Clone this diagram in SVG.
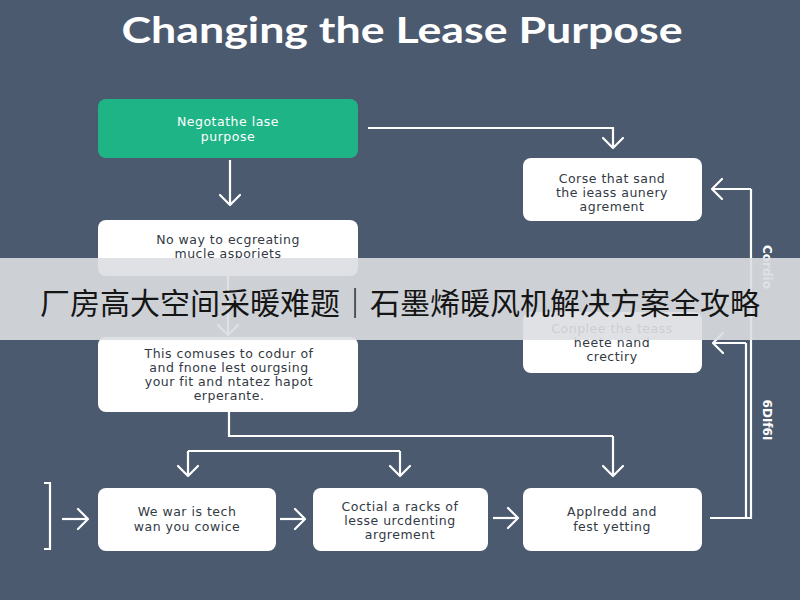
<svg xmlns="http://www.w3.org/2000/svg" width="800" height="600" viewBox="0 0 800 600">
<defs>
<marker id="arr" viewBox="-12 -12 14 24" refX="0" refY="0" markerWidth="14" markerHeight="24" markerUnits="userSpaceOnUse" orient="auto">
<path d="M-10,-10 L0,0 L-10,10" fill="none" stroke="#ffffff" stroke-width="2.2" stroke-linecap="round" stroke-linejoin="round"/>
</marker>
<style>
.box{fill:#ffffff;stroke:none}
.t{font-family:"DejaVu Sans","Liberation Sans",sans-serif;font-size:12.5px;letter-spacing:0.5px;fill:#333a44;text-anchor:middle}
.w{fill:#ffffff}
.ln{fill:none;stroke:#ffffff;stroke-width:2.2}
.ar{marker-end:url(#arr)}
.vl{font-family:"DejaVu Sans","Liberation Sans",sans-serif;font-size:12px;font-weight:bold;fill:#ffffff;text-anchor:middle}
</style>
</defs>
<rect x="0" y="0" width="800" height="600" fill="#4b5a6f"/>
<text x="402" y="43" font-family="Lato,'Open Sans',sans-serif" font-weight="bold" font-size="37" fill="#ffffff" text-anchor="middle" textLength="561" lengthAdjust="spacingAndGlyphs">Changing the Lease Purpose</text>

<g id="connectors">
<path class="ln ar" d="M230,160 V205"/>
<path class="ln ar" d="M228,276 V335"/>
<path class="ln ar" d="M368,128 H613 V148"/>
<path class="ln" d="M229,412 V436 H613"/>
<path class="ln ar" d="M613,436 V476"/>
<path class="ln" d="M188,451 H400"/>
<path class="ln ar" d="M188,451 V476"/>
<path class="ln ar" d="M400,451 V476"/>
<path class="ln ar" d="M280,519 H305"/>
<path class="ln ar" d="M493,518 H518"/>
<path class="ln" d="M44,483 H50 V549 H44"/>
<path class="ln ar" d="M62,519 H88"/>
<path class="ln" d="M710,518 H751 V189"/>
<path class="ln ar" d="M751,189 H712"/>
<path class="ln" d="M746,518 V343"/>
<path class="ln ar" d="M746,343 H713"/>
<text class="vl" transform="translate(763,267) rotate(90)">Cordio</text>
<text class="vl" transform="translate(763,420) rotate(90)">6DIf6I</text>
</g>

<g id="node-negotiate">
<rect x="98" y="99" width="260" height="59" rx="8" fill="#1fb486"/>
<text class="t w" x="228" y="126">Negotathe lase</text>
<text class="t w" x="228" y="141">purpose</text>
</g>

<g id="node-noway">
<rect class="box" x="98" y="220" width="260" height="56" rx="8"/>
<text class="t" x="228" y="244">No way to ecgreating</text>
<text class="t" x="228" y="258">mucle asporiets</text>
</g>

<g id="node-this">
<rect class="box" x="98" y="337" width="260" height="75" rx="8"/>
<text class="t" x="229" y="358">This comuses to codur of</text>
<text class="t" x="229" y="372">and fnone lest ourgsing</text>
<text class="t" x="229" y="386">your fit and ntatez hapot</text>
<text class="t" x="229" y="400">erperante.</text>
</g>

<g id="node-corse">
<rect class="box" x="523" y="158" width="179" height="63" rx="8"/>
<text class="t" x="612" y="183">Corse that sand</text>
<text class="t" x="612" y="197">the ieass aunery</text>
<text class="t" x="612" y="211">agrement</text>
</g>

<g id="node-conplee">
<rect class="box" x="523" y="312" width="179" height="61" rx="8"/>
<text class="t" x="612" y="333">Conplee the teass</text>
<text class="t" x="612" y="347">heete nand</text>
<text class="t" x="612" y="361">crectiry</text>
</g>

<g id="node-wewar">
<rect class="box" x="98" y="488" width="178" height="63" rx="8"/>
<text class="t" x="187" y="516">We war is tech</text>
<text class="t" x="187" y="531">wan you cowice</text>
</g>

<g id="node-coctial">
<rect class="box" x="313" y="488" width="175" height="63" rx="8"/>
<text class="t" x="400" y="511">Coctial a racks of</text>
<text class="t" x="400" y="525">lesse urcdenting</text>
<text class="t" x="400" y="539">argrement</text>
</g>

<g id="node-applredd">
<rect class="box" x="523" y="488" width="179" height="63" rx="8"/>
<text class="t" x="612" y="516">Applredd and</text>
<text class="t" x="612" y="531">fest yetting</text>
</g>

<g id="banner">
<rect x="0" y="258" width="800" height="82" fill="#dcdee1" opacity="0.9"/>
<text x="400" y="314" font-family="'Noto Sans CJK SC',sans-serif" font-size="30" fill="#151515" text-anchor="middle">厂房高大空间采暖难题｜石墨烯暖风机解决方案全攻略</text>
</g>
</svg>
